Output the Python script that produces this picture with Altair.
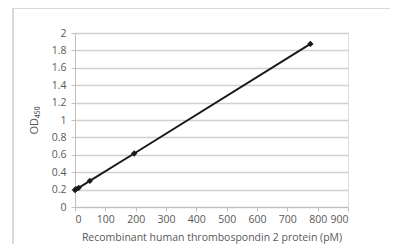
import altair as alt
import pandas as pd

conc = [0, 3.05, 12.2, 48.8, 195, 776]
od = [0.195, 0.205, 0.22, 0.30, 0.615, 1.875]
y_ticks = [0, 0.2, 0.4, 0.6, 0.8, 1, 1.2, 1.4, 1.6, 1.8, 2]
x_ticks = [0, 100, 200, 300, 400, 500, 600, 700, 800, 900]

df = pd.DataFrame({"conc": conc, "od": od})

FONT = "Open Sans"
GRAY = "#595959"

x = alt.X("conc:Q", title="Recombinant human thrombospondin 2 protein (pM)",
          scale=alt.Scale(domain=[0, 900], nice=False),
          axis=alt.Axis(values=x_ticks, grid=False,
                        domainColor="#bfbfbf", tickColor="#bfbfbf", tickSize=4,
                        labelColor=GRAY, labelFont=FONT, labelFontSize=10.5,
                        titleColor=GRAY, titleFont=FONT, titleFontSize=10.5,
                        titleFontWeight="normal", labelPadding=3, titlePadding=8))
y = alt.Y("od:Q", title="OD₄₅₀",
          scale=alt.Scale(domain=[0, 2], nice=False),
          axis=alt.Axis(values=y_ticks, format="~g", grid=True,
                        gridColor="#d0d0d0", gridWidth=1.3,
                        domainColor="#bfbfbf", tickColor="#bfbfbf", tickSize=4,
                        labelColor=GRAY, labelFont=FONT, labelFontSize=10.5,
                        titleColor=GRAY, titleFont=FONT, titleFontSize=11,
                        titleFontWeight="normal", labelPadding=5, titlePadding=12))

base = alt.Chart(df)
line = base.mark_line(color="#1a1a1a", strokeWidth=2).encode(x=x, y=y)
pts = base.mark_point(shape="diamond", filled=True, color="#1a1a1a", size=40, opacity=1).encode(x=x, y=y)

frame_left = alt.Chart(df.head(1)).mark_rule(color="#d9d9d9", strokeWidth=2).encode(
    x=alt.value(-62), y=alt.value(-25), y2=alt.value(260))
frame_top = alt.Chart(df.head(1)).mark_rule(color="#d9d9d9", strokeWidth=2).encode(
    x=alt.value(-62), x2=alt.value(400), y=alt.value(-25))

chart = alt.layer(frame_left, frame_top, line, pts).properties(
    width=273, height=174,
    autosize=alt.AutoSizeParams(type="none"),
    padding={"left": 67, "top": 25, "right": 42, "bottom": 37},
).configure_view(stroke=None).configure(background="white")

chart.save("out.html", embed_options={"renderer": "svg", "actions": False})
